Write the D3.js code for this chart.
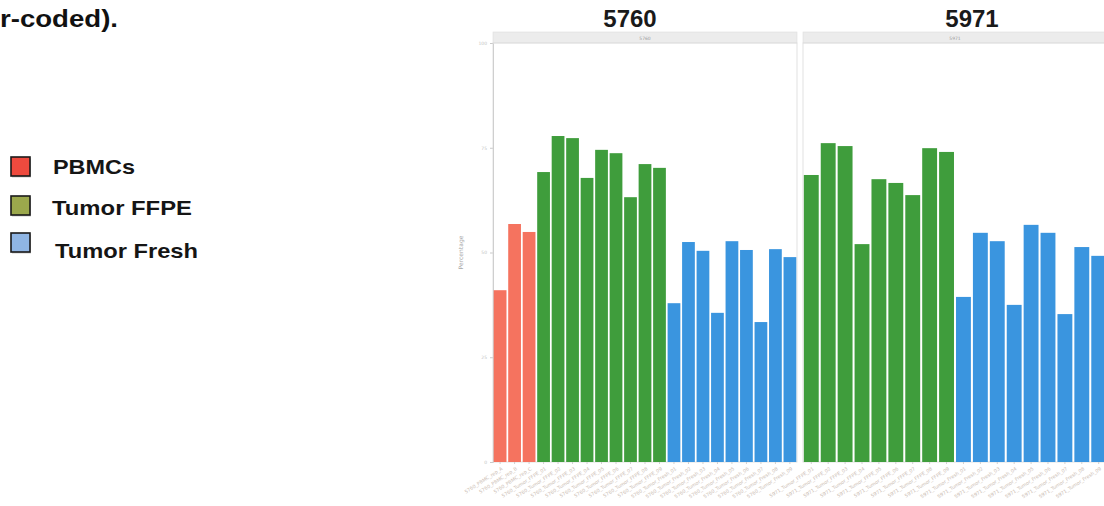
<!DOCTYPE html>
<html>
<head>
<meta charset="utf-8">
<script src="https://cdn.jsdelivr.net/npm/d3@7/dist/d3.min.js"></script>
<style>
  html, body { margin: 0; padding: 0; background: #fff; }
  svg { display: block; }
</style>
</head>
<body>
<svg id="chart" width="1104" height="506"></svg>
<script>
// ---- data -------------------------------------------------------------
const groups = ["PBMCs", "Tumor FFPE", "Tumor Fresh"];
const groupFill = ["#f5735f", "#3f9d3c", "#3a95df"];
const legendFill = ["#ee4a3e", "#9ba84c", "#8fb5e4"];

const panels = ["5760", "5971"];

// panel 5760: 3 PBMC, 9 FFPE, 9 fresh samples
const samples5760 = [
  "5760_PBMC_rep_A", "5760_PBMC_rep_B", "5760_PBMC_rep_C",
  "5760_Tumor_FFPE_01", "5760_Tumor_FFPE_02", "5760_Tumor_FFPE_03", "5760_Tumor_FFPE_04", "5760_Tumor_FFPE_05",
  "5760_Tumor_FFPE_06", "5760_Tumor_FFPE_07", "5760_Tumor_FFPE_08", "5760_Tumor_FFPE_09",
  "5760_Tumor_Fresh_01", "5760_Tumor_Fresh_02", "5760_Tumor_Fresh_03", "5760_Tumor_Fresh_04", "5760_Tumor_Fresh_05",
  "5760_Tumor_Fresh_06", "5760_Tumor_Fresh_07", "5760_Tumor_Fresh_08", "5760_Tumor_Fresh_09"
];
const group5760 = [0,0,0, 1,1,1,1,1,1,1,1,1, 2,2,2,2,2,2,2,2,2];
const values5760 = [41.0, 56.8, 54.9,
  69.2, 77.8, 77.3, 67.8, 74.5, 73.7, 63.2, 71.1, 70.2,
  37.9, 52.5, 50.4, 35.6, 52.7, 50.6, 33.4, 50.8, 48.9];

// panel 5971: 9 FFPE, 9 fresh samples
const samples5971 = [
  "5971_Tumor_FFPE_01", "5971_Tumor_FFPE_02", "5971_Tumor_FFPE_03", "5971_Tumor_FFPE_04", "5971_Tumor_FFPE_05",
  "5971_Tumor_FFPE_06", "5971_Tumor_FFPE_07", "5971_Tumor_FFPE_08", "5971_Tumor_FFPE_09",
  "5971_Tumor_Fresh_01", "5971_Tumor_Fresh_02", "5971_Tumor_Fresh_03", "5971_Tumor_Fresh_04", "5971_Tumor_Fresh_05",
  "5971_Tumor_Fresh_06", "5971_Tumor_Fresh_07", "5971_Tumor_Fresh_08", "5971_Tumor_Fresh_09"
];
const group5971 = [1,1,1,1,1,1,1,1,1, 2,2,2,2,2,2,2,2,2];
const values5971 = [68.5, 76.1, 75.4, 52.0, 67.5, 66.6, 63.7, 74.9, 74.0,
  39.4, 54.7, 52.7, 37.5, 56.6, 54.7, 35.3, 51.3, 49.2];

const yTicks = [0, 25, 50, 75, 100];

// ---- layout -----------------------------------------------------------
const svg = d3.select("#chart");
svg.append("rect").attr("width", 1104).attr("height", 506).attr("fill", "#fff");

const plotTop = 43, plotBottom = 462;
const panelX = [493, 803];
const panelW = 304;
const stripH = 11;

const y = d3.scaleLinear().domain([0, 100]).range([plotBottom, plotTop]);

// caption fragment at the top-left
svg.append("text")
  .attr("x", 0).attr("y", 27)
  .attr("font-family", "Liberation Sans, Arial, sans-serif")
  .attr("font-weight", "bold").attr("font-size", 23)
  .attr("textLength", 118).attr("lengthAdjust", "spacingAndGlyphs")
  .attr("fill", "#111")
  .text("r-coded).");

// legend
const legendY = [157, 196, 233];
const legendTextX = [53, 52, 55];
const legendTextW = [82, 140, 143];
const legendBase = [174, 215, 258];
const lg = svg.append("g");
groups.forEach((g, i) => {
  lg.append("rect")
    .attr("x", 12).attr("y", legendY[i] + 1.5)
    .attr("width", 19).attr("height", 19)
    .attr("fill", "#9a9a9a").attr("opacity", 0.5);
  lg.append("rect")
    .attr("x", 11).attr("y", legendY[i])
    .attr("width", 19).attr("height", 19)
    .attr("fill", legendFill[i]).attr("stroke", "#1a1a1a").attr("stroke-width", 1.6);
  lg.append("text")
    .attr("x", legendTextX[i]).attr("y", legendBase[i])
    .attr("font-family", "Liberation Sans, Arial, sans-serif")
    .attr("font-weight", "bold").attr("font-size", 20.5)
    .attr("textLength", legendTextW[i]).attr("lengthAdjust", "spacingAndGlyphs")
    .attr("fill", "#151515")
    .text(g);
});

// big facet titles
const titleX = [630, 972];
panels.forEach((p, i) => {
  svg.append("text")
    .attr("x", titleX[i]).attr("y", 27)
    .attr("text-anchor", "middle")
    .attr("font-family", "Liberation Sans, Arial, sans-serif")
    .attr("font-weight", "bold").attr("font-size", 24)
    .attr("fill", "#1a1a1a")
    .text(p);
});

// y axis (left of first panel)
const yAxis = d3.axisLeft(y).tickValues(yTicks).tickSize(3).tickPadding(3)
  .tickFormat(d3.format("d"));
const ya = svg.append("g").attr("transform", `translate(${panelX[0]},0)`).call(yAxis);
ya.select(".domain").attr("stroke", "#c9c9c9");
ya.selectAll(".tick line").attr("stroke", "#c9c9c9");
ya.selectAll(".tick text").attr("fill", "#c4c4c4").attr("font-size", 4.5)
  .attr("font-family", "DejaVu Sans, sans-serif");

svg.append("text")
  .attr("transform", `translate(463,${(plotTop + plotBottom) / 2}) rotate(-90)`)
  .attr("text-anchor", "middle")
  .attr("font-family", "DejaVu Sans, sans-serif").attr("font-size", 6)
  .attr("fill", "#a8a8a8")
  .text("Percentage");

// one facet per panel
const facetData = [
  { name: panels[0], samples: samples5760, grp: group5760, vals: values5760 },
  { name: panels[1], samples: samples5971, grp: group5971, vals: values5971 }
];

facetData.forEach((f, i) => {
  const x0 = panelX[i];
  const x = d3.scaleBand().domain(f.samples)
    .range([x0, x0 + panelW]).paddingInner(0.12).paddingOuter(0.05);
  const g = svg.append("g");

  // strip
  g.append("rect")
    .attr("x", x0).attr("y", plotTop - stripH)
    .attr("width", panelW).attr("height", stripH)
    .attr("fill", "#ececec").attr("stroke", "#dedede").attr("stroke-width", 0.6);
  g.append("text")
    .attr("x", x0 + panelW / 2).attr("y", plotTop - 3.5)
    .attr("text-anchor", "middle")
    .attr("font-family", "DejaVu Sans, sans-serif").attr("font-size", 4.5)
    .attr("fill", "#9c9c9c")
    .text(f.name);

  // panel border
  g.append("rect")
    .attr("x", x0).attr("y", plotTop)
    .attr("width", panelW).attr("height", plotBottom - plotTop)
    .attr("fill", "none").attr("stroke", "#d9d9d9").attr("stroke-width", 0.8);

  // bars
  g.selectAll("rect.bar")
    .data(f.samples.map((s, k) => ({ s, v: f.vals[k], grp: f.grp[k] })))
    .join("rect")
    .attr("class", "bar")
    .attr("x", d => x(d.s))
    .attr("width", x.bandwidth())
    .attr("y", d => y(d.v))
    .attr("height", d => y(0) - y(d.v))
    .attr("fill", d => groupFill[d.grp]);

  // x axis with slanted sample labels
  const xa = g.append("g").attr("transform", `translate(0,${plotBottom})`)
    .call(d3.axisBottom(x).tickSize(2).tickPadding(2));
  xa.select(".domain").remove();
  xa.selectAll(".tick line").attr("stroke", "#cfcfcf");
  xa.selectAll(".tick text")
    .attr("font-family", "DejaVu Sans, sans-serif").attr("font-size", 4.8)
    .attr("fill", "#cbbcb2")
    .attr("text-anchor", "end")
    .attr("dy", "0.3em")
    .attr("transform", "translate(0,3) rotate(-33)");
});
</script>
</body>
</html>
